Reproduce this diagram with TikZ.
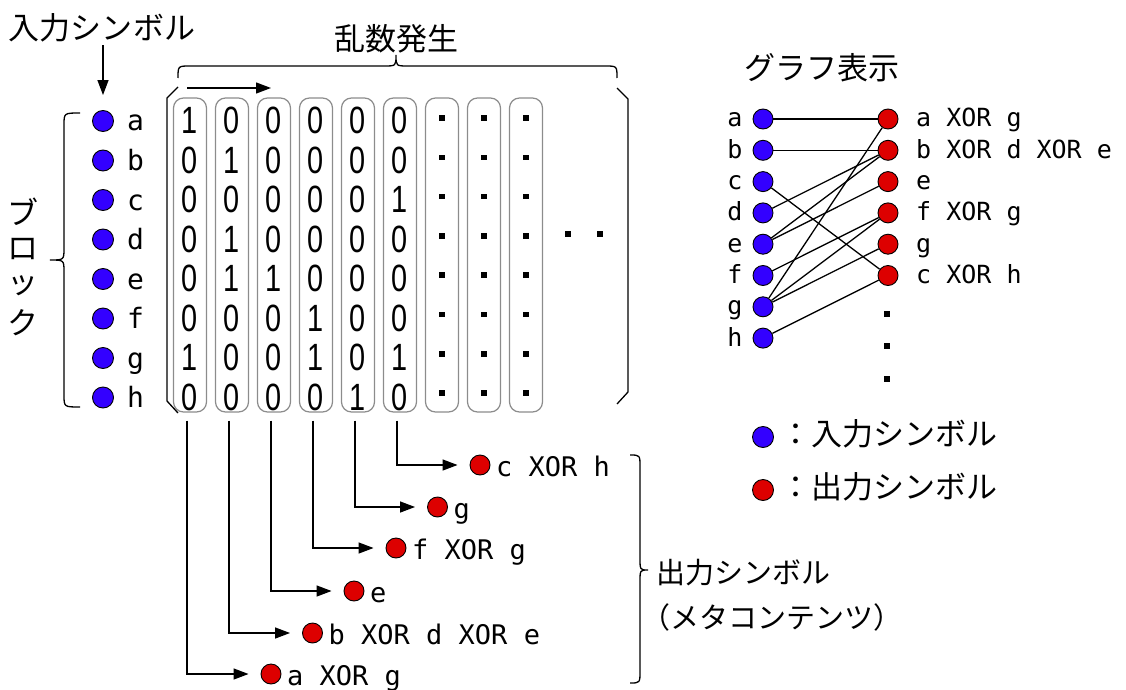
\documentclass[tikz,border=0pt]{standalone}
\usepackage{fontspec}
\usetikzlibrary{arrows.meta}
\newfontfamily\jp{Noto Sans CJK JP}
\newfontfamily\mono{DejaVu Sans Mono}
\newfontfamily\digit[FakeStretch=0.76]{Liberation Sans}
\definecolor{inblue}{RGB}{51,0,255}
\definecolor{outred}{RGB}{221,0,0}
\definecolor{boxgray}{RGB}{140,140,140}
\begin{document}
\begin{tikzpicture}[x=1pt,y=-1pt,
  indot/.style={circle,draw=black,fill=inblue,line width=0.9pt,minimum size=21pt,inner sep=0pt},
  outdot/.style={circle,draw=black,fill=outred,line width=0.9pt,minimum size=21pt,inner sep=0pt},
  colbox/.style={draw=boxgray,line width=1.2pt,rounded corners=10pt,minimum width=33pt,minimum height=314pt,inner sep=0pt},
  bit/.style={font=\digit\fontsize{38}{38}\selectfont,inner sep=0pt},
  sq/.style={fill=black,minimum size=5.5pt,inner sep=0pt},
  jp/.style={font=\jp\fontsize{31}{37}\selectfont,inner sep=0pt},
  jpb/.style={font=\jp\fontsize{29}{35}\selectfont,inner sep=0pt},
  lett/.style={font=\mono\fontsize{28}{28}\selectfont,inner sep=0pt},
  glett/.style={font=\mono\fontsize{25}{25}\selectfont,inner sep=0pt},
  glab/.style={font=\mono\fontsize{25}{25}\selectfont,inner sep=0pt},
  blab/.style={font=\mono\fontsize{27}{27}\selectfont,inner sep=0pt},
  line/.style={line width=1.3pt},
  gline/.style={line width=1.3pt},
  arr/.style={line width=1.3pt,-{Triangle[length=15pt,width=11pt]}},
]
\useasboundingbox (0,0) rectangle (1126,690);

% titles
\node[jp] (tin) at (102,28) {入力シンボル};
\node[jp] (trand) at (396,39) {乱数発生};
\node[jp] (tgraph) at (822,68) {グラフ表示};
\foreach \ch [count=\k from 0] in {ブ,ロ,ッ,ク}
  \node[jp] (blk\k) at (23,{212+37*\k}) {\ch};

% input symbols
\foreach \l [count=\i from 0] in {a,b,c,d,e,f,g,h} {
  \node[indot] (d\l) at (103,{121+39.5*\i}) {};
  \node[lett,anchor=base west] (l\l) at (127,{131+39.5*\i}) {\l};
}

% columns
\foreach \j in {1,...,9}
  \node[colbox] (c\j) at ({148+42*\j},255) {};

% bits
\foreach \row [count=\i from 0] in {{1,0,0,0,0,0},{0,1,0,0,0,0},{0,0,0,0,0,1},{0,1,0,0,0,0},{0,1,1,0,0,0},{0,0,0,1,0,0},{1,0,0,1,0,1},{0,0,0,0,1,0}}
  \foreach \b [count=\j from 0] in \row
    \node[bit,anchor=base] (m\i-\j) at ({190+42*\j},{133.5+39.5*\i}) {\b};

% dots in remaining columns
\foreach \j in {7,8,9}
  \foreach \i in {0,...,7}
    \node[sq] (s\j-\i) at ({148+42*\j},{118+39.3*\i}) {};
\node[sq] (more1) at (568,234) {};
\node[sq] (more2) at (600,234) {};

% arrow above matrix
\coordinate (ra1) at (187,88);
\coordinate (ra2) at (271,88);
\draw[arr] (ra1) -- (ra2);

% matrix brackets
\draw[line] (178,87) -- (167,98) -- (167,401) -- (178,413);
\draw[line] (617,88) -- (628,99) -- (628,392) -- (617,404);

% top brace
\draw[line] (178,78) .. controls (178,66) .. (190,66) -- (384,66)
  .. controls (396,66) .. (396,55) .. controls (396,66) .. (408,66)
  -- (605,66) .. controls (617,66) .. (617,78);

% left brace
\draw[line] (80,113) .. controls (64,113) .. (64,125) -- (64,248)
  .. controls (64,260) .. (50,260) .. controls (64,260) .. (64,272)
  -- (64,395) .. controls (64,407) .. (80,407);

% input arrow
\draw[arr,shorten <=3pt,shorten >=15pt] (tin.south -| da) -- (da);

% graph
\foreach \l [count=\i from 0] in {a,b,c,d,e,f,g,h} {
  \node[indot,minimum size=20pt] (g\l) at (763,{119+31.3*\i}) {};
  \node[glett,anchor=base] (gl\l) at (735,{127+31.3*\i}) {\l};
}
\foreach \n/\t [count=\i from 0] in {A/a XOR g,B/b XOR d XOR e,C/e,D/f XOR g,E/g,F/c XOR h} {
  \node[outdot,minimum size=20pt] (o\n) at (888,{119+31.3*\i}) {};
  \node[glab,anchor=base west] (ol\n) at (916,{127+31.3*\i}) {\t};
}
\foreach \a/\b in {a/A,b/B,c/F,d/B,e/B,e/C,f/D,g/A,g/D,g/E,h/F}
  \draw[gline] (g\a) -- (o\b);
\node[sq] (vd1) at (887,314) {};
\node[sq] (vd2) at (887,346) {};
\node[sq] (vd3) at (887,379) {};

% legend
\node[indot] (legin) at (763,437) {};
\node[jp,anchor=west] (legint) at (780,434) {：入力シンボル};
\node[outdot] (legout) at (763,490) {};
\node[jp,anchor=west] (legoutt) at (780,487) {：出力シンボル};

% output symbols
\foreach \j/\y/\x/\t in {1/674/271/a XOR g,2/633/312.5/b XOR d XOR e,3/591/354/e,4/548/396/f XOR g,5/507/437.5/g,6/465/480/c XOR h} {
  \node[outdot,minimum size=20pt] (p\j) at (\x,\y) {};
  \node[blab,anchor=base west] (pl\j) at ({\x+16},{\y+11}) {\t};
  \draw[arr,shorten >=12pt] ([xshift=-3pt,yshift=-8pt]c\j.south) |- (p\j);
}

% right brace
\draw[line] (630,455) .. controls (640,455) .. (640,467) -- (640,558)
  .. controls (640,570) .. (648,570) .. controls (640,570) .. (640,582)
  -- (640,671) .. controls (640,683) .. (630,683);
\node[jpb,anchor=west] (mo1) at (656,573) {出力シンボル};
\node[jpb,anchor=west] (mo2) at (641,617) {（メタコンテンツ）};
\end{tikzpicture}
\end{document}
